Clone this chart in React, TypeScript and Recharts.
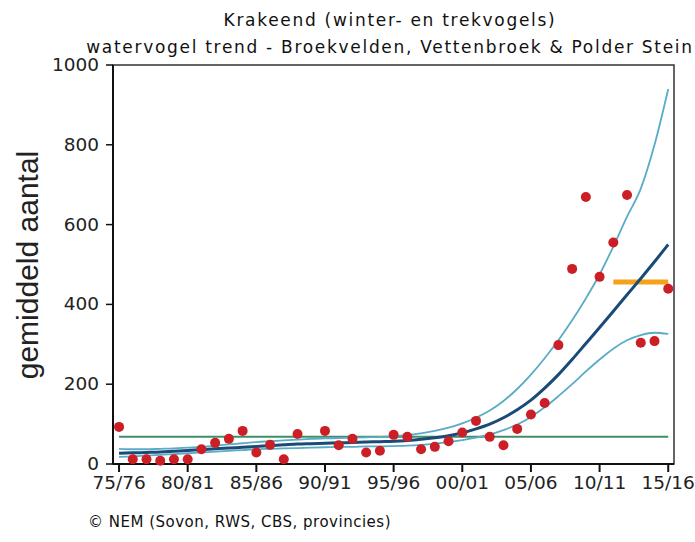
import React from "react";
import { ComposedChart, Line, Scatter, XAxis, YAxis, ReferenceArea } from "recharts";

const years = [1975, 1976, 1977, 1978, 1979, 1980, 1981, 1982, 1983, 1984, 1985, 1986, 1987, 1988, 1989, 1990, 1991, 1992, 1993, 1994, 1995, 1996, 1997, 1998, 1999, 2000, 2001, 2002, 2003, 2004, 2005, 2006, 2007, 2008, 2009, 2010, 2011, 2012, 2013, 2014, 2015];
const counts = [93, 12, 12, 8, 12, 12, 37, 53, 63, 83, 29, 48, 12, 75, null, 83, 47, 63, 29, 33, 73, 68, 37, 43, 57, 79, 108, 68, 47, 88, 124, 153, 298, 489, 669, 469, 555, 674, 304, 308, 439];
const trend = [27, 28, 29, 30, 32, 34, 36, 38, 40, 42, 44, 46, 48, 50, 51, 52, 53, 54, 55, 56, 57, 59, 62, 66, 71, 78, 88, 100, 116, 136, 160, 190, 224, 262, 302, 342, 383, 424, 465, 507, 550];
const upperBand = [38, 37, 37, 38, 39, 41, 43, 46, 49, 52, 55, 57, 59, 61, 63, 64, 65, 66, 67, 68, 70, 73, 77, 83, 91, 102, 116, 134, 158, 188, 224, 265, 310, 360, 415, 475, 545, 620, 690, 800, 940];
const lowerBand = [18, 19, 21, 23, 25, 27, 29, 31, 33, 35, 37, 38, 39, 40, 41, 42, 43, 43, 44, 44, 45, 46, 48, 51, 55, 60, 66, 74, 85, 99, 118, 142, 170, 200, 232, 262, 289, 310, 323, 329, 326];
const baselineYears = [1975, 2015];
const baselineValues = [68, 68];
const recentYears = [2011, 2015];
const recentValues = [456, 456];
const xTickYears = [1975, 1980, 1985, 1990, 1995, 2000, 2005, 2010, 2015];
const xTickLabels = ["75/76", "80/81", "85/86", "90/91", "95/96", "00/01", "05/06", "10/11", "15/16"];
const yTicks = [0, 200, 400, 600, 800, 1000];

const titleLine1 = "Krakeend (winter- en trekvogels)";
const titleLine2 = "watervogel trend - Broekvelden, Vettenbroek & Polder Stein";
const yLabel = "gemiddeld aantal";
const footer = "\u00a9 NEM (Sovon, RWS, CBS, provincies)";

const mk = (xs: number[], vs: (number | null)[]) =>
  xs.map((x, i) => ({ year: x, v: vs[i] })).filter((d) => d.v !== null);

const dotData = mk(years, counts);
const trendData = mk(years, trend);
const upperData = mk(years, upperBand);
const lowerData = mk(years, lowerBand);
const baseData = mk(baselineYears, baselineValues);
const recentData = mk(recentYears, recentValues);

const W = 695;
const H = 542;

const XTick = (props: any) => {
  const { x, y, payload } = props;
  const idx = xTickYears.indexOf(payload.value);
  return (
    <text x={x} y={y + 15} textAnchor="middle" fontFamily="DejaVu Sans" fontSize={18.5} fill="#222">
      {idx >= 0 ? xTickLabels[idx] : ""}
    </text>
  );
};

const YTick = (props: any) => {
  const { x, y, payload } = props;
  return (
    <text x={x - 5} y={y + 6} textAnchor="end" fontFamily="DejaVu Sans" fontSize={18.5} fill="#222">
      {payload.value}
    </text>
  );
};

const Dot = (props: any) => {
  const { cx, cy } = props;
  if (cx == null || cy == null) return null;
  return <circle cx={cx} cy={cy} r={5} fill="#cc1f25" />;
};

export default function App() {
  return (
    <div style={{ position: "absolute", left: 0, top: 0, width: W, height: H, background: "#fff" }}>
      <ComposedChart width={W} height={H} margin={{ top: 65, right: 21, bottom: 48, left: 0 }}>
        <XAxis
          dataKey="year"
          type="number"
          domain={[1974.56, 2015.42]}
          allowDataOverflow
          ticks={xTickYears}
          tick={<XTick />}
          tickSize={8}
          height={30}
          axisLine={{ stroke: "#111", strokeWidth: 2 }}
          tickLine={{ stroke: "#111", strokeWidth: 2 }}
        />
        <YAxis
          type="number"
          domain={[0, 1000]}
          ticks={yTicks}
          tick={<YTick />}
          tickSize={7}
          width={113}
          axisLine={{ stroke: "#111", strokeWidth: 2 }}
          tickLine={{ stroke: "#111", strokeWidth: 1.5 }}
        />
        <ReferenceArea x1={1974.56} x2={2015.42} y1={0} y2={1000} fill="none" stroke="#333" strokeWidth={1.5} ifOverflow="visible" />
        <Line data={baseData} dataKey="v" stroke="#3f8f66" strokeWidth={2} dot={false} isAnimationActive={false} />
        <Line data={upperData} dataKey="v" type="monotone" stroke="#58acc6" strokeWidth={1.8} dot={false} isAnimationActive={false} />
        <Line data={lowerData} dataKey="v" type="monotone" stroke="#58acc6" strokeWidth={1.8} dot={false} isAnimationActive={false} />
        <Line data={recentData} dataKey="v" stroke="#f5a21b" strokeWidth={5} dot={false} isAnimationActive={false} />
        <Line data={trendData} dataKey="v" type="monotone" stroke="#1a4a78" strokeWidth={3} dot={false} isAnimationActive={false} />
        <Scatter data={dotData} dataKey="v" shape={<Dot />} isAnimationActive={false} />
      </ComposedChart>
      <svg width={W} height={H} style={{ position: "absolute", left: 0, top: 0, pointerEvents: "none" }}>
        <text x={390} y={26} textAnchor="middle" fontFamily="DejaVu Sans" fontSize={17} letterSpacing={1.7} fill="#111">{titleLine1}</text>
        <text x={390} y={53} textAnchor="middle" fontFamily="DejaVu Sans" fontSize={17} letterSpacing={1.7} fill="#111">{titleLine2}</text>
        <text transform="translate(38,265) rotate(-90)" textAnchor="middle" fontFamily="Liberation Sans" fontSize={30} fill="#222">{yLabel}</text>
        <text x={88} y={527} fontFamily="DejaVu Sans" fontSize={15} letterSpacing={0.5} fill="#111">{footer}</text>
      </svg>
    </div>
  );
}
